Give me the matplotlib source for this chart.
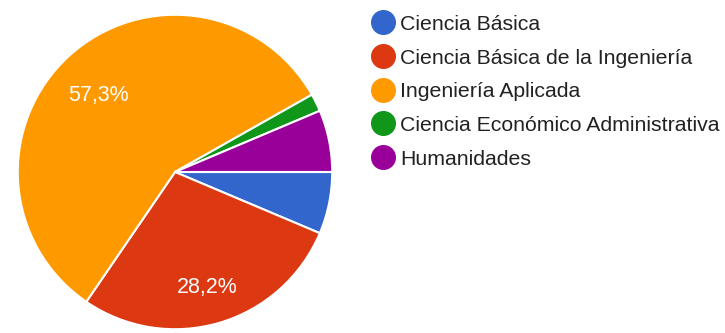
import matplotlib.pyplot as plt
from matplotlib.lines import Line2D

# responses per area
areas = ['Ciencia Básica', 'Ciencia Básica de la Ingeniería', 'Ingeniería Aplicada',
         'Ciencia Económico Administrativa', 'Humanidades']
counts = [7, 31, 63, 2, 7]
colors = ['#3366cc', '#dc3912', '#ff9900', '#109618', '#990099']

plt.rcParams['font.family'] = ['Liberation Sans', 'DejaVu Sans']

fig = plt.figure(figsize=(7.25, 3.33), dpi=100)
ax = fig.add_axes([17/725, 3/333, 316/725, 316/333])


def pct_label(p):
    # only the big slices get a label
    return f'{p:.1f}%'.replace('.', ',') if p > 10 else ''


wedges, texts, autotexts = ax.pie(counts, colors=colors, startangle=0, counterclock=False,
                                  autopct=pct_label, pctdistance=0.72,
                                  wedgeprops=dict(edgecolor='white', linewidth=1.5),
                                  textprops=dict(color='white', fontsize=15.5))
for t in autotexts:
    t.set_y(t.get_position()[1] - 0.045)
ax.set_xlim(-1.005, 1.005)
ax.set_ylim(-1.005, 1.005)
ax.set_aspect('equal')

handles = [Line2D([], [], marker='o', linestyle='', markersize=17, color=c) for c in colors]
fig.legend(handles, areas, loc='upper left', bbox_to_anchor=(357/725, 1 - 0/333),
           frameon=False, fontsize=15.3, handlelength=1.0, handletextpad=0.33,
           labelspacing=0.69, borderpad=0.2, labelcolor='#222222')

plt.savefig('out.png', dpi=100)
